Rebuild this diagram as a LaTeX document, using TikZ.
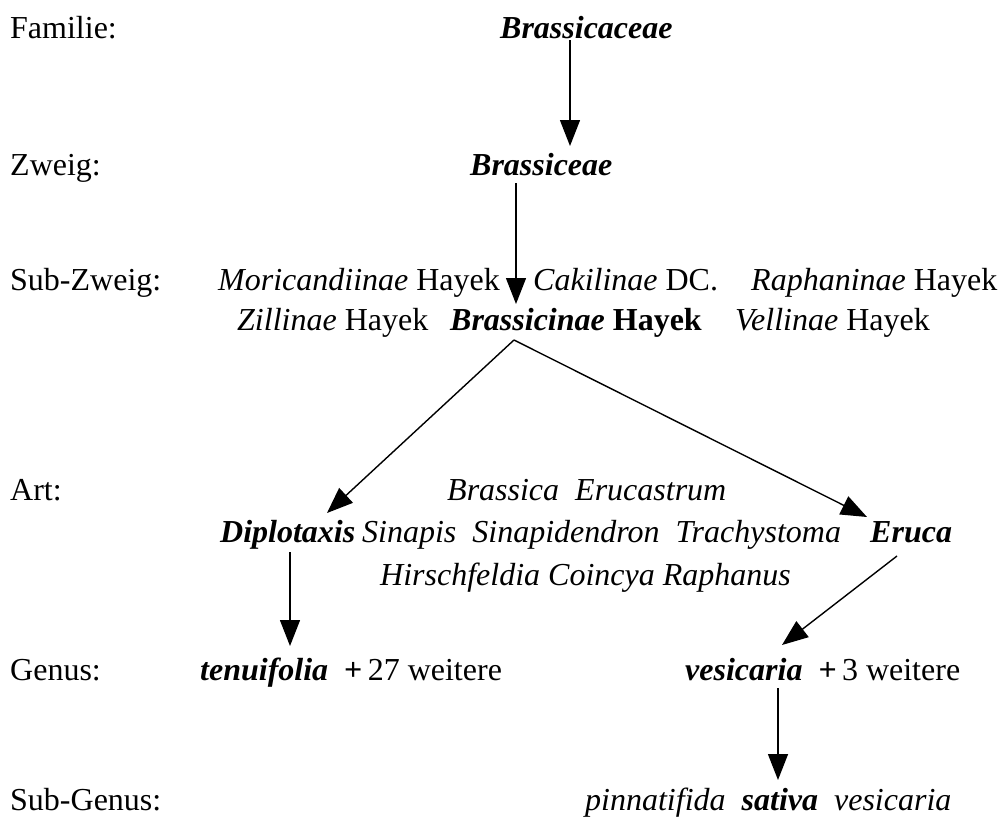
\documentclass[tikz,border=0pt]{standalone}
\usepackage{fontspec}
\setmainfont{Liberation Serif}
\usetikzlibrary{arrows.meta}
\tikzset{
  txt/.style={anchor=base west, inner sep=0pt, font=\fontsize{32}{36}\selectfont},
  arr/.style={line width=1.4pt, -{Triangle[width=20pt,length=26pt]}}
}
\begin{document}
\begin{tikzpicture}[x=1pt,y=-1pt]
\useasboundingbox (0,0) rectangle (999,823);
% left labels
\node[txt] (lfam) at (10,38) {Familie:};
\node[txt] (lzw) at (10,175) {Zweig:};
\node[txt] (lszw) at (10,290) {Sub-Zweig:};
\node[txt] (lart) at (10,500) {Art:};
\node[txt] (lgen) at (10,680) {Genus:};
\node[txt] (lsgen) at (10,810) {Sub-Genus:};
% tree texts
\node[txt] (fam) at (500,38) {\textbf{\textit{Brassicaceae}}};
\node[txt] (zw) at (470,175) {\textbf{\textit{Brassiceae}}};
\node[txt] (mor) at (218,290) {\textit{Moricandiinae} Hayek};
\node[txt] (cak) at (533,290) {\textit{Cakilinae} DC.};
\node[txt] (rap) at (751,290) {\textit{Raphaninae} Hayek};
\node[txt] (zil) at (237,330) {\textit{Zillinae} Hayek};
\node[txt] (bra) at (450,330) {\textbf{\textit{Brassicinae} Hayek}};
\node[txt] (vel) at (735,330) {\textit{Vellinae} Hayek};
\node[txt] (art1) at (447,500) {\textit{Brassica\ \ Erucastrum}};
\node[txt] (dip) at (220,542) {\textbf{\textit{Diplotaxis}}};
\node[txt] (art2) at (362,542) {\textit{Sinapis\ \ Sinapidendron\ \ Trachystoma}};
\node[txt] (eru) at (870,542) {\textbf{\textit{Eruca}}};
\node[txt] (art3) at (380,585) {\textit{Hirschfeldia Coincya Raphanus}};
\node[txt] (ten) at (200,680) {\textbf{\textit{tenuifolia}}\ \ \textbf{+}\,27 weitere};
\node[txt] (ves) at (685,680) {\textbf{\textit{vesicaria}}\ \ \textbf{+}\,3 weitere};
\node[txt] (sgen) at (585,810) {\textit{pinnatifida}\ \ \textbf{\textit{sativa}}\ \ \textit{vesicaria}};
% connector end points
\coordinate (famS) at (570,40);
\coordinate (zwN) at (570,146);
\coordinate (zwS) at (516,183);
\coordinate (braN) at (516,304);
\coordinate (braS) at (514,340);
\coordinate (dipN) at (327,513);
\coordinate (eruN) at (867,517);
\coordinate (dipS) at (290,552);
\coordinate (tenN) at (290,646);
\coordinate (eruS) at (897,556);
\coordinate (vesN) at (782,645);
\coordinate (vesS) at (778,688);
\coordinate (sgenN) at (778,780);
\draw[arr] (famS) -- (zwN);
\draw[arr] (zwS) -- (braN);
\draw[arr] (braS) -- (dipN);
\draw[arr] (braS) -- (eruN);
\draw[arr] (dipS) -- (tenN);
\draw[arr] (eruS) -- (vesN);
\draw[arr] (vesS) -- (sgenN);
\end{tikzpicture}
\end{document}
